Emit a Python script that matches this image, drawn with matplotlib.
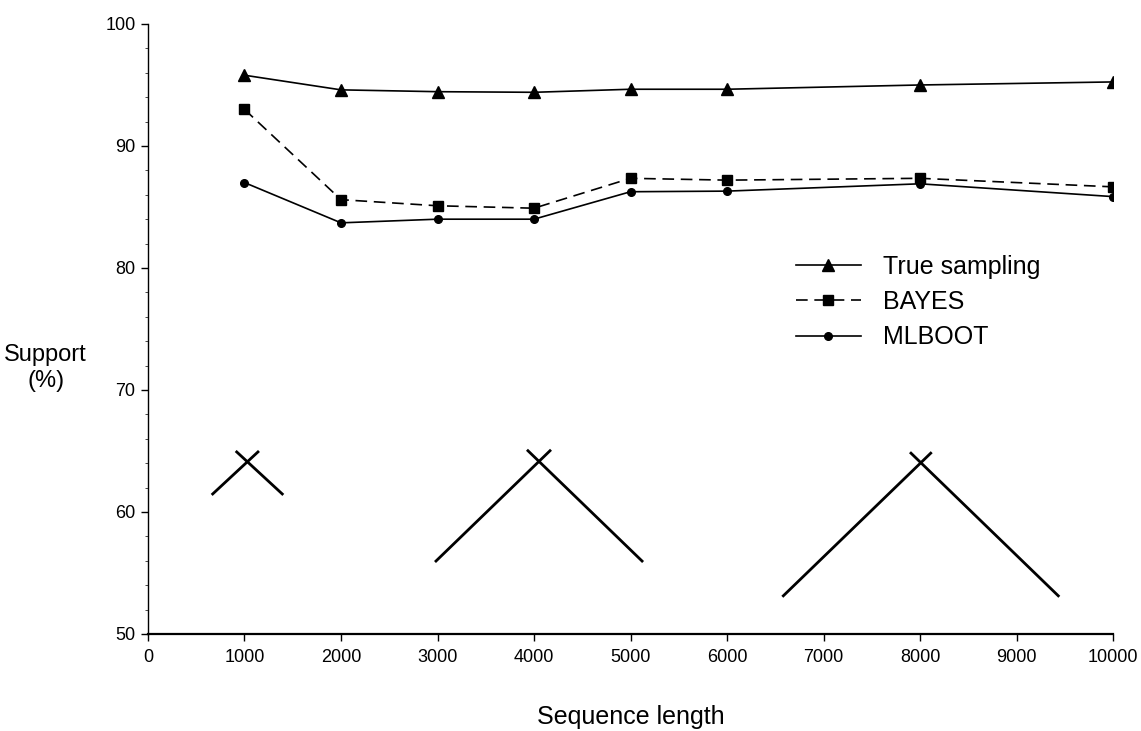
import matplotlib
matplotlib.use('Agg')
import matplotlib.pyplot as plt
from matplotlib.ticker import MultipleLocator

plt.rcParams['font.family'] = ['Liberation Sans', 'DejaVu Sans']

# support values per sequence length
seq_len = [1000, 2000, 3000, 4000, 5000, 6000, 8000, 10000]
true_sampling = [95.8, 94.6, 94.45, 94.4, 94.65, 94.65, 95.0, 95.25]
bayes = [93.0, 85.6, 85.1, 84.9, 87.35, 87.2, 87.35, 86.65]
mlboot = [87.0, 83.7, 84.0, 84.0, 86.25, 86.3, 86.9, 85.85]

# little tree sketches: each one is two crossing branches (x0, y0, x1, y1)
tree_short = [(660, 61.4, 1150, 65.0), (1402, 61.4, 909, 65.0)]
tree_mid = [(2974, 55.9, 4176, 65.1), (5130, 55.9, 3927, 65.1)]
tree_long = [(6573, 53.05, 8121, 64.9), (9443, 53.05, 7896, 64.9)]

fig = plt.figure(figsize=(11.41, 7.31), dpi=100)
ax = fig.add_axes([0.1297, 0.1327, 0.8458, 0.8345])

ax.plot(seq_len, true_sampling, color='black', lw=1.2, marker='^', ms=8,
        label='True sampling')
ax.plot(seq_len, bayes, color='black', lw=1.2, marker='s', ms=6.5,
        dashes=(7, 4), label='BAYES')
ax.plot(seq_len, mlboot, color='black', lw=1.2, marker='o', ms=5.5,
        label='MLBOOT')

for tree in [tree_short, tree_mid, tree_long]:
    for x0, y0, x1, y1 in tree:
        ax.plot([x0, x1], [y0, y1], color='black', lw=2.0, solid_capstyle='butt')

ax.set_xlim(0, 10000)
ax.set_ylim(50, 100)
ax.xaxis.set_major_locator(MultipleLocator(1000))
ax.yaxis.set_major_locator(MultipleLocator(10))
ax.yaxis.set_minor_locator(MultipleLocator(2))

ax.spines['top'].set_visible(False)
ax.spines['right'].set_visible(False)
ax.spines['left'].set_linewidth(1.0)
ax.spines['bottom'].set_linewidth(1.6)
ax.tick_params(axis='both', which='major', direction='out', length=5,
               width=1.0, labelsize=13, colors='black')
ax.tick_params(axis='x', which='major', pad=6)
ax.tick_params(axis='y', which='major', pad=4)
ax.tick_params(axis='y', which='minor', direction='out', length=2, width=0.5)

ax.set_xlabel('Sequence length', fontsize=18, labelpad=28)
ax.set_ylabel('Support\n(%)', fontsize=17, rotation=0,
              va='center', ha='center', linespacing=1.25)
ax.yaxis.set_label_coords(-0.106, 0.436)

leg = ax.legend(loc='center left', bbox_to_anchor=(0.648, 0.544), frameon=False,
                fontsize=18, handlelength=2.6, handletextpad=0.9, labelspacing=0.45)

plt.savefig('out.png', dpi=100)
